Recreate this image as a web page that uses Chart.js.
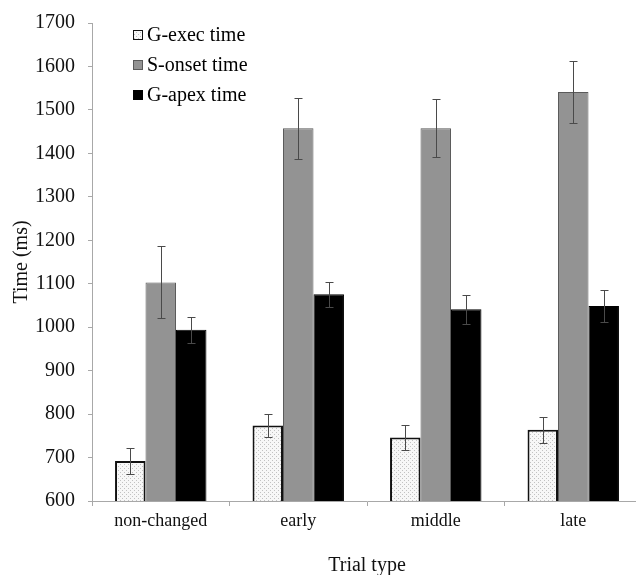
<!DOCTYPE html>
<html>
<head>
<meta charset="utf-8">
<script src="https://cdn.jsdelivr.net/npm/chart.js@4.4.1/dist/chart.umd.min.js"></script>
<style>
  html, body { margin: 0; padding: 0; background: #fff; overflow: hidden; }
  #wrap { width: 642px; height: 575px; }
</style>
</head>
<body>
<div id="wrap"><canvas id="timeChart" width="642" height="575"></canvas></div>
<script>
// Trial type timing chart

const categories = ['non-changed', 'early', 'middle', 'late'];
const seriesNames = ['G-exec time', 'S-onset time', 'G-apex time'];

const execTime = [692, 774, 746, 764];
const onsetTime = [1103, 1458, 1458, 1541];
const apexTime = [994, 1076, 1041, 1049];

const execErr = [29, 26, 29, 30];
const onsetErr = [83, 70, 67, 72];
const apexErr = [30, 29, 33, 37];

const yTicks = [600, 700, 800, 900, 1000, 1100, 1200, 1300, 1400, 1500, 1600, 1700];

const FONT = "'Liberation Serif', 'Times New Roman', serif";

function makeDots() {
    const c = document.createElement('canvas');
    c.width = 4; c.height = 4;
    const g = c.getContext('2d');
    g.fillStyle = '#f7f7f7';
    g.fillRect(0, 0, 4, 4);
    g.fillStyle = '#c2c2c2';
    g.fillRect(0, 0, 1, 1);
    g.fillRect(2, 2, 1, 1);
    return g.createPattern(c, 'repeat');
}

const dots = makeDots();
const errors = [execErr, onsetErr, apexErr];

const errorBars = {
    id: 'errorBars',
    afterDatasetsDraw(chart) {
        const ctx = chart.ctx;
        const y = chart.scales.y;
        ctx.save();
        ctx.strokeStyle = '#4a4a4a';
        ctx.lineWidth = 1;
        chart.data.datasets.forEach((ds, i) => {
            const meta = chart.getDatasetMeta(i);
            meta.data.forEach((bar, j) => {
                const v = ds.data[j];
                const e = errors[i][j];
                const top = Math.round(y.getPixelForValue(v + e));
                const bot = Math.round(y.getPixelForValue(v - e));
                const x = Math.round(bar.x) + 0.5;
                ctx.beginPath();
                ctx.moveTo(x, top); ctx.lineTo(x, bot);
                ctx.moveTo(x - 4, top + 0.5); ctx.lineTo(x + 4, top + 0.5);
                ctx.moveTo(x - 4, bot + 0.5); ctx.lineTo(x + 4, bot + 0.5);
                ctx.stroke();
            });
        });
        ctx.restore();
    }
};

const innerLegend = {
    id: 'innerLegend',
    afterDraw(chart) {
        const ctx = chart.ctx;
        ctx.save();
        ctx.font = '20px ' + FONT;
        ctx.textBaseline = 'middle';
        chart.data.datasets.forEach((ds, i) => {
            const cy = 35 + i * 30;
            ctx.fillStyle = ds.backgroundColor;
            ctx.fillRect(133, cy - 5, 10, 10);
            ctx.strokeStyle = ds.borderColor;
            ctx.lineWidth = 1;
            ctx.strokeRect(133.5, cy - 4.5, 9, 9);
            ctx.fillStyle = '#000';
            ctx.fillText(ds.label, 147, cy + 1);
        });
        ctx.restore();
    }
};

new Chart(document.getElementById('timeChart'), {
    type: 'bar',
    data: {
        labels: categories,
        datasets: [
            { label: seriesNames[0], data: execTime, backgroundColor: dots, borderColor: '#111', borderWidth: 2 },
            { label: seriesNames[1], data: onsetTime, backgroundColor: '#939393', borderColor: '#5a5a5a', borderWidth: 1 },
            { label: seriesNames[2], data: apexTime, backgroundColor: '#000', borderColor: '#000', borderWidth: 1 }
        ]
    },
    options: {
        responsive: false,
        animation: false,
        devicePixelRatio: 1,
        layout: { padding: { top: 18, right: 0, left: 0, bottom: 0 } },
        datasets: { bar: { barPercentage: 1, categoryPercentage: 0.665 } },
        plugins: {
            legend: { display: false },
            tooltip: { enabled: false }
        },
        scales: {
            x: {
                afterFit(scale) { scale.height = 74; },
                grid: { offset: true, drawOnChartArea: false, color: '#a8a8a8', tickLength: 5 },
                border: { color: '#a8a8a8' },
                ticks: { color: '#111', font: { family: FONT, size: 18 }, padding: 4 },
                title: { display: true, text: 'Trial type', color: '#111', font: { family: FONT, size: 20 }, padding: { top: 0, bottom: -3 } }
            },
            y: {
                min: 600,
                max: 1700,
                afterFit(scale) { scale.width = 92; },
                afterBuildTicks(scale) { scale.ticks = yTicks.map(v => ({ value: v })); },
                grid: { drawOnChartArea: false, color: '#a8a8a8', tickLength: 4 },
                border: { color: '#a8a8a8' },
                ticks: { color: '#111', font: { family: FONT, size: 20, lineHeight: 1 }, padding: 13, callback: v => String(v) },
                title: { display: true, text: 'Time (ms)', color: '#111', font: { family: FONT, size: 20 }, padding: { top: 10, bottom: 0 } }
            }
        }
    },
    plugins: [errorBars, innerLegend]
});
</script>
</body>
</html>
